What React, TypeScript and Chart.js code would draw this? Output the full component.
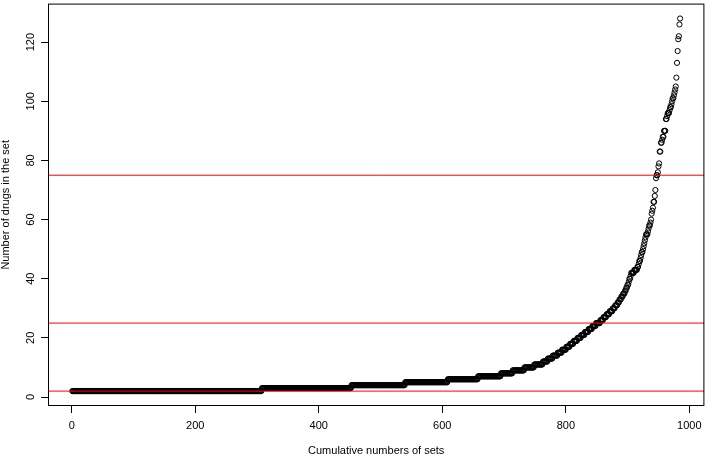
import { useEffect, useRef } from "react";
import { Chart, registerables } from "chart.js";

Chart.register(...registerables);

// Sorted set sizes: value and how many sets have it
const runValues = [
  2, 3, 4, 5, 6, 7, 8, 9, 10, 11, 12, 13, 14, 15, 16, 17, 18, 19, 20, 21, 22, 23, 24, 25,
  26, 27, 28, 29, 30, 31, 32, 33, 34, 35, 36, 37, 38, 39, 40, 41, 42, 43, 44, 45, 46, 47,
  48, 49, 50, 51, 52, 53, 54, 55, 56, 57, 58, 59, 60, 62, 63, 64, 66, 68, 70, 74, 75, 76,
  78, 79, 83, 86, 87, 88, 90, 94, 95, 96, 97, 98, 99, 100, 101, 102, 103, 104, 105, 108,
  113, 117, 121, 122, 126, 128,
];
const runCounts = [
  307, 145, 87, 69, 49, 37, 19, 19, 16, 14, 8, 8, 8, 7, 7, 6, 6, 6, 6, 6, 6, 6, 6, 7,
  5, 5, 5, 5, 4, 4, 3, 3, 3, 3, 2, 2, 2, 1, 2, 1, 5, 5, 2, 1, 2, 1,
  1, 2, 1, 1, 1, 1, 1, 3, 1, 1, 2, 1, 1, 1, 1, 1, 2, 1, 1, 1, 2, 1,
  1, 1, 2, 2, 1, 2, 3, 2, 1, 3, 1, 2, 1, 1, 2, 1, 1, 1, 1, 1,
  1, 1, 1, 1, 1, 1,
];

const xTickValues = [0, 200, 400, 600, 800, 1000];
const yTickValues = [0, 20, 40, 60, 80, 100, 120];
const referenceLines = [2, 25, 75];
const xTitle = "Cumulative numbers of sets";
const yTitle = "Number of drugs in the set";

const FONT = '11px "Liberation Sans", Arial, Helvetica, sans-serif';

function buildPoints() {
  const pts: { x: number; y: number }[] = [];
  let idx = 1;
  runValues.forEach((v, i) => {
    for (let k = 0; k < runCounts[i]; k++) {
      pts.push({ x: idx, y: v });
      idx++;
    }
  });
  return pts;
}

const rStyle = {
  id: "rStyle",
  afterDraw(chart: any) {
    const { ctx, chartArea: a, scales } = chart;
    const xs = scales.x;
    const ys = scales.y;
    ctx.save();
    // box
    ctx.strokeStyle = "#000000";
    ctx.lineWidth = 1;
    ctx.strokeRect(a.left + 0.5, a.top + 0.5, a.right - a.left - 1, a.bottom - a.top - 1);
    // tick labels
    ctx.fillStyle = "#000000";
    ctx.font = FONT;
    ctx.textAlign = "center";
    ctx.textBaseline = "middle";
    xs.ticks.forEach((t: any) => {
      ctx.fillText(String(t.value), xs.getPixelForValue(t.value), 425.5);
    });
    ys.ticks.forEach((t: any) => {
      ctx.save();
      ctx.translate(30.5, ys.getPixelForValue(t.value));
      ctx.rotate(-Math.PI / 2);
      ctx.fillText(String(t.value), 0, 0);
      ctx.restore();
    });
    // axis titles
    ctx.textBaseline = "alphabetic";
    ctx.fillText(xTitle, (a.left + a.right) / 2, 453.5);
    ctx.save();
    ctx.translate(9, (a.top + a.bottom) / 2);
    ctx.rotate(-Math.PI / 2);
    ctx.fillText(yTitle, 0, 0);
    ctx.restore();
    ctx.restore();
  },
};

export default function App() {
  const ref = useRef<HTMLCanvasElement | null>(null);

  useEffect(() => {
    if (!ref.current) return;
    const points = buildPoints();
    const xMin = 1;
    const xMax = points.length;
    const yMin = Math.min(...points.map((p) => p.y));
    const yMax = Math.max(...points.map((p) => p.y));
    const xPad = (xMax - xMin) * 0.04;
    const yPad = (yMax - yMin) * 0.04;
    const x0 = xMin - xPad;
    const x1 = xMax + xPad;

    const lineSets = referenceLines.map((v) => ({
      type: "line" as const,
      data: [
        { x: x0, y: v },
        { x: x1, y: v },
      ],
      borderColor: "#ff0000",
      backgroundColor: "#ff0000",
      borderWidth: 1,
      pointRadius: 0,
      fill: false,
      order: 0,
    }));

    const chart = new Chart(ref.current, {
      type: "scatter",
      data: {
        datasets: [
          ...lineSets,
          {
            type: "scatter" as const,
            data: points,
            pointStyle: "circle",
            pointRadius: 2.6,
            pointHoverRadius: 2.6,
            borderWidth: 1,
            borderColor: "#000000",
            backgroundColor: "rgba(0,0,0,0)",
            order: 1,
          },
        ] as any,
      },
      options: {
        animation: false,
        responsive: false,
        events: [],
        layout: { padding: { top: 1, right: 2, left: 0, bottom: 0 } },
        plugins: { legend: { display: false }, tooltip: { enabled: false } },
        scales: {
          x: {
            type: "linear",
            min: x0,
            max: x1,
            afterBuildTicks: (s: any) => {
              s.ticks = xTickValues.map((v) => ({ value: v }));
            },
            afterFit: (s: any) => {
              s.height = 48;
            },
            ticks: { display: false },
            border: { display: false },
            grid: {
              display: true,
              drawOnChartArea: false,
              drawTicks: true,
              tickLength: 7,
              color: "#000",
              lineWidth: 1,
            },
            title: { display: false },
          },
          y: {
            type: "linear",
            min: yMin - yPad,
            max: yMax + yPad,
            afterBuildTicks: (s: any) => {
              s.ticks = yTickValues.map((v) => ({ value: v }));
            },
            afterFit: (s: any) => {
              s.width = 48;
            },
            ticks: { display: false },
            border: { display: false },
            grid: {
              display: true,
              drawOnChartArea: false,
              drawTicks: true,
              tickLength: 7,
              color: "#000",
              lineWidth: 1,
            },
            title: { display: false },
          },
        },
      },
      plugins: [rStyle],
    });
    return () => chart.destroy();
  }, []);

  return (
    <div style={{ position: "absolute", left: 0, top: 0, width: 708, height: 454, background: "#fff" }}>
      <canvas ref={ref} width={708} height={454} style={{ display: "block" }} />
    </div>
  );
}
